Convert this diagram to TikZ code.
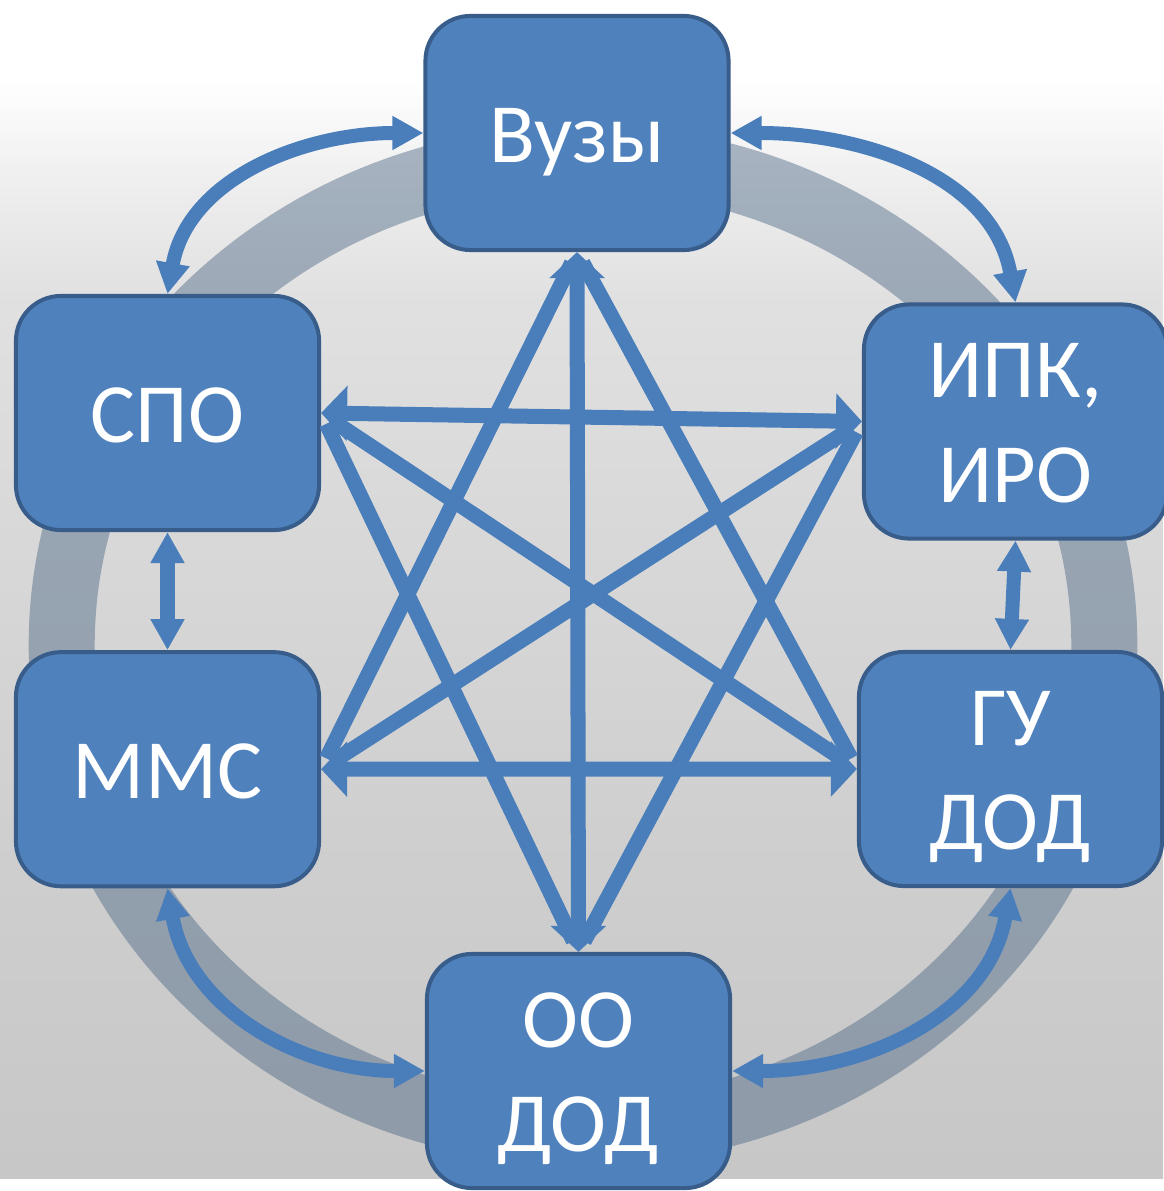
\documentclass[tikz,border=0pt]{standalone}
\usepackage{fontspec}
\setmainfont{Carlito}
\usetikzlibrary{arrows.meta, positioning}

\definecolor{boxblue}{HTML}{4F81BD}
\definecolor{boxedge}{HTML}{385D8A}
\definecolor{linkblue}{HTML}{4A7EBB}
\definecolor{ringgray}{HTML}{4A6584}

\pgfdeclareverticalshading{backfade}{100bp}{color(0bp)=(black!22); color(25bp)=(black!22); color(40bp)=(black!19); color(55bp)=(black!15); color(65bp)=(black!12); color(70bp)=(black!7); color(75bp)=(white); color(100bp)=(white)}

\begin{document}
\begin{tikzpicture}[
    x=0.01cm, y=0.01cm,
    block/.style={rectangle, rounded corners=0.45cm, draw=boxedge, line width=0.04cm, fill=boxblue, text=white, minimum width=3.03cm, minimum height=2.34cm, inner sep=0pt, align=center, font=\fontsize{24pt}{29.6pt}\selectfont},
    oneline/.style={text height=0.8cm, text depth=0.21cm},
    twoline/.style={text height=1.7cm, text depth=0.09cm},
    ring/.style={draw=ringgray, draw opacity=0.45, line width=0.66cm},
    link/.style={draw=linkblue, line width=0.14cm, <->, >={Triangle[length=0.31cm, width=0.32cm]}},
    star/.style={draw=linkblue, line width=0.15cm, <->, >={Triangle[length=0.26cm, width=0.54cm]}},
    spoke/.style={draw=linkblue, line width=0.15cm, shorten <=0.12cm, shorten >=0.12cm}
]
    \useasboundingbox (0,0) rectangle (1163,-1191);
    \fill[white] (0,0) rectangle (1163,-1191);
    \shade[shading=backfade] (0,-80) rectangle (1163,-1178);

    % Ring
    \draw[ring] (583,-645) ellipse [x radius=5.21cm, y radius=4.87cm];

    % Вузы
    \node[block, oneline] (vuz) at (577,-133) {Вузы};

    % СПО
    \node[block, oneline] (spo) at (167.5,-413) {СПО};

    % ИПК, ИРО
    \node[block, twoline] (ipk) at (1015.5,-421.5) {ИПК,\\ИРО};

    % ММС
    \node[block, oneline, below=1.18cm of spo] (mms) {ММС};

    % ГУ ДОД
    \node[block, twoline] (gu) at (1010.5,-769) {ГУ\\ДОД};

    % ОО ДОД
    \node[block, twoline] (oo) at (578.5,-1071) {ОО\\ДОД};

    % Spokes
    \draw[spoke] (vuz.south) -- (mms.east);
    \draw[spoke] (vuz.south) -- (gu.west);
    \draw[spoke] (oo.north) -- (spo.east);
    \draw[spoke] (oo.north) -- (ipk.west);
    \draw[spoke] (spo.east) -- (gu.west);
    \draw[spoke] (ipk.west) -- (mms.east);

    % Star arrows
    \draw[star] (spo.east) -- (ipk.west);
    \draw[star] (mms.east) -- (gu.west);
    \draw[star] (vuz.south) -- (oo.north);

    % Outer arrows
    \draw[link] (spo.north) to[out=80, in=180] (vuz.west);
    \draw[link] (vuz.east) to[out=0, in=100] (ipk.north);
    \draw[link] (mms.south) to[out=-80, in=180] (oo.west);
    \draw[link] (gu.south) to[out=-100, in=0] (oo.east);
    \draw[link] (spo.south) -- (mms.north);
    \draw[link] (ipk.south) -- (gu.north);

\end{tikzpicture}
\end{document}
